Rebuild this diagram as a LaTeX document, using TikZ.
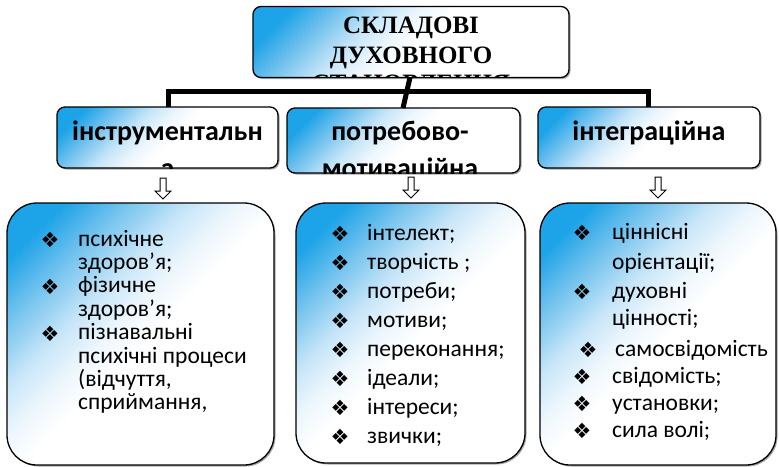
\documentclass[tikz,border=0pt]{standalone}
\usepackage{fontspec}
\setmainfont{Carlito}
\newfontfamily\serifbf{Liberation Serif}
\newfontfamily\symf{DejaVu Sans}
\usetikzlibrary{shadows}
\definecolor{fadeA}{HTML}{1CA3E8}
\definecolor{fadeB}{HTML}{6FC1EE}
\definecolor{fadeC}{HTML}{C6E5F8}
\definecolor{fadeD}{HTML}{EEF7FD}
% the path's box covers 14.6bp (bottom-right) .. 85.4bp (top-left) of this shading when rotated by 45
\pgfdeclareverticalshading{boxfade}{100bp}{color(0bp)=(white); color(48bp)=(white); color(54bp)=(fadeD); color(61bp)=(fadeC); color(70bp)=(fadeB); color(78bp)=(fadeA); color(100bp)=(fadeA)}
\tikzset{
  fadebox/.style={draw=black, line width=1.3pt, outer sep=0pt, inner sep=0pt,
    drop shadow={shadow xshift=1.5pt, shadow yshift=-1.5pt, opacity=0.35, fill=black},
    shading=boxfade, shading angle=45},
  smallbox/.style={fadebox, rounded corners=8pt},
  bigbox/.style={fadebox, rounded corners=30pt},
  conn/.style={line width=5pt, black},
  hollowarr/.style={draw=black, line width=1pt, fill=white, line join=miter},
  toptext/.style={anchor=base, inner sep=0pt, font=\serifbf\bfseries\fontsize{25}{30}\selectfont},
  midtext/.style={anchor=base, inner sep=0pt, font=\bfseries\fontsize{28}{34}\selectfont},
  itemtext/.style={anchor=base west, inner sep=0pt, font=\fontsize{23.5}{24}\selectfont},
  bul/.style={anchor=center, inner sep=0pt, font=\symf\fontsize{21}{21}\selectfont}
}
\begin{document}
\begin{tikzpicture}[x=1pt,y=-1pt]
\useasboundingbox (0,0) rectangle (779,466);

% junction coordinates
\coordinate (jL) at (168,91);
\coordinate (jR) at (648,91);

% boxes
\node[smallbox, minimum width=316, minimum height=71] (top) at (411,42) {};
\node[smallbox, minimum width=221, minimum height=61] (ins) at (167.5,137.5) {};
\node[smallbox, minimum width=233, minimum height=65] (mot) at (403.5,140.5) {};
\node[smallbox, minimum width=222, minimum height=61] (integ) at (649,137.5) {};
\node[bigbox, minimum width=267, minimum height=262] (bD) at (140.5,334) {};
\node[bigbox, minimum width=229, minimum height=260] (bE) at (410.5,333) {};
\node[bigbox, minimum width=236, minimum height=262] (bF) at (658,334) {};

% clipped titles
\begin{scope}
\clip[rounded corners=8pt] (top.north west) rectangle (top.south east);
\node[toptext] (t1) at (411,33) {СКЛАДОВІ};
\node[toptext] (t2) at (411,63) {ДУХОВНОГО};
\node[toptext] (t3) at (411,91) {СТАНОВЛЕННЯ};
\end{scope}
\begin{scope}
\clip[rounded corners=8pt] (ins.north west) rectangle (ins.south east);
\node[midtext] (i1) at (167.5,140) {інструментальн};
\node[midtext] (i2) at (167.5,177) {а};
\end{scope}
\begin{scope}
\clip[rounded corners=8pt] (mot.north west) rectangle (mot.south east);
\node[midtext] (m1) at (400,140) {потребово-};
\node[midtext] (m2) at (400,177) {мотиваційна};
\end{scope}
\node[midtext] (g1) at (649,140) {інтеграційна};

% connectors
\draw[conn] (top.south -| 410,0) -- (mot.north -| 403,0);
\draw[conn, line join=miter] (ins.north -| jL) -- (jL) -- (jR) -- (integ.north -| jR);

% hollow arrows
\coordinate (arA) at (163,178);
\coordinate (arB) at (411,177);
\coordinate (arC) at (658,177);
\foreach \a in {arA,arB,arC}
  \draw[hollowarr, shift={(\a)}] (-3,0) -- (3,0) -- (3,13) -- (8,13) -- (0,21) -- (-8,13) -- (-3,13) -- cycle;

% list D
\foreach \t/\y [count=\i] in {{психічне}/246,{здоров’я;}/269.4,{фізичне}/292.8,{здоров’я;}/316.2,{пізнавальні}/339.6,{психічні процеси}/363,{(відчуття,}/386.4,{сприймання,}/409.8}
  \node[itemtext] (d\i) at (78,\y) {\t};
\foreach \y [count=\i] in {246,292.8,339.6}
  \node[bul] (bd\i) at (50,\y-6) {❖};

% list E
\foreach \t/\y [count=\i] in {{інтелект;}/240,{творчість ;}/269,{потреби;}/298,{мотиви;}/327,{переконання;}/356,{ідеали;}/385,{інтереси;}/414,{звички;}/443}
{
  \node[itemtext] (e\i) at (367,\y) {\t};
  \node[bul] (be\i) at (340,\y-6) {❖};
}

% list F
\foreach \t/\y/\x [count=\i] in {{ціннісні}/239/612,{орієнтації;}/269/612,{духовні}/298/612,{цінності;}/325/612,{самосвідомість}/356/615,{свідомість;}/383/612,{установки;}/410/612,{сила волі;}/437/612}
  \node[itemtext] (f\i) at (\x,\y) {\t};
\foreach \y/\x [count=\i] in {239/582,298/582,356/588,383/582,410/582,437/582}
  \node[bul] (bf\i) at (\x,\y-6) {❖};
\end{tikzpicture}
\end{document}
